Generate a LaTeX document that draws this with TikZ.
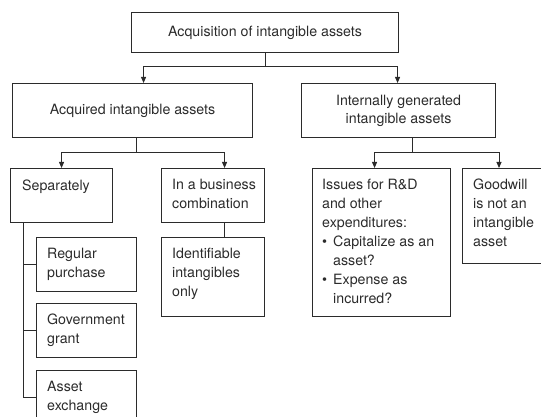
\documentclass[tikz,border=0pt]{standalone}
\usepackage{fontspec}
\setmainfont{TeX Gyre Heros}
\usetikzlibrary{arrows.meta,calc}
\definecolor{ink}{HTML}{2B2B2B}
\tikzset{
  box/.style={draw=ink, line width=1.1pt, rectangle, inner sep=0pt, anchor=north west},
  txt/.style={inner sep=0pt, anchor=north west, align=left, text=ink,
    font=\fontsize{14.2}{19}\selectfont},
  ctxt/.style={inner sep=0pt, align=center, text=ink,
    font=\fontsize{14.2}{18}\selectfont},
  link/.style={draw=ink, line width=0.9pt},
  arr/.style={link, -{Triangle[length=6pt,width=5pt]}}
}
\begin{document}
\begin{tikzpicture}[x=1pt,y=-1pt]
\useasboundingbox (0,0) rectangle (541,417);
% boxes
\node[box, minimum width=267pt, minimum height=40pt] (top) at (131,12) {};
\node[ctxt] (toptxt) at (top.center) {Acquisition of intangible assets};
\node[box, minimum width=240pt, minimum height=54pt] (acq) at (12,83) {};
\node[ctxt] (acqtxt) at (acq.center) {Acquired intangible assets};
\node[box, minimum width=194pt, minimum height=54pt] (int) at (301,83) {};
\node[ctxt] (inttxt) at (int.center) {Internally generated\\intangible assets};

\node[box, minimum width=102pt, minimum height=54pt] (sep) at (10,168) {};
\node[txt] (septxt) at ($(sep.north west)+(12,12)$) {Separately};
\node[box, minimum width=103pt, minimum height=54pt] (bus) at (161,168) {};
\node[txt] (bustxt) at ($(bus.north west)+(11,11)$) {In a business\\combination};
\node[box, minimum width=103pt, minimum height=79pt] (ident) at (161,237) {};
\node[txt] (identtxt) at ($(ident.north west)+(11,11)$) {Identifiable\\intangibles\\only};

\node[box, minimum width=100pt, minimum height=54pt] (reg) at (36,237) {};
\node[txt] (regtxt) at ($(reg.north west)+(11,11)$) {Regular\\purchase};
\node[box, minimum width=100pt, minimum height=54pt] (gov) at (36,303) {};
\node[txt] (govtxt) at ($(gov.north west)+(11,11)$) {Government\\grant};
\node[box, minimum width=100pt, minimum height=70pt] (ex) at (36,370) {};
\node[txt] (extxt) at ($(ex.north west)+(11,11)$) {Asset\\exchange};

\node[box, minimum width=138pt, minimum height=148pt] (iss) at (312,168) {};
\node[txt] (isstxt) at ($(iss.north west)+(10,11)$) {Issues for R\&D\\and other\\expenditures:\\
\makebox[11pt][l]{\textbullet}Capitalize as an\\\hspace*{11pt}asset?\\
\makebox[11pt][l]{\textbullet}Expense as\\\hspace*{11pt}incurred?};
\node[box, minimum width=100pt, minimum height=95pt] (gw) at (462,168) {};
\node[txt] (gwtxt) at ($(gw.north west)+(11,11)$) {Goodwill\\is not an\\intangible\\asset};

% connectors
\coordinate (j0) at ($(top.south)+(0,13)$);
\draw[link] (top.south) -- (j0);
\draw[arr] (j0) -| ([xshift=11pt]acq.north);
\draw[arr] (j0) -| ([xshift=-1pt]int.north);

\coordinate (j1) at ($(acq.south)+(4,14)$);
\draw[link] ([xshift=4pt]acq.south) -- (j1);
\draw[arr] (j1) -| (sep.north);
\draw[arr] (j1) -| ([xshift=11.5pt]bus.north);
\draw[link] ([xshift=11.5pt]bus.south) -- ([xshift=11.5pt]ident.north);

\coordinate (j2) at ($(int.south)+(14,14)$);
\draw[link] ([xshift=14pt]int.south) -- (j2);
\draw[arr] (j2) -| ([xshift=-7pt]iss.north);
\draw[arr] (j2) -| ([xshift=37pt]gw.north west);

\coordinate (s0) at ($(sep.south west)+(13,0)$);
\coordinate (s3) at ($(ex.north west)+(-13,27)$);
\draw[link] (s0) -- (s3) -- (s3 -| ex.west);
\draw[link] (s3 |- reg.west) -- (reg.west);
\draw[link] (s3 |- gov.west) -- (gov.west);
\end{tikzpicture}
\end{document}
